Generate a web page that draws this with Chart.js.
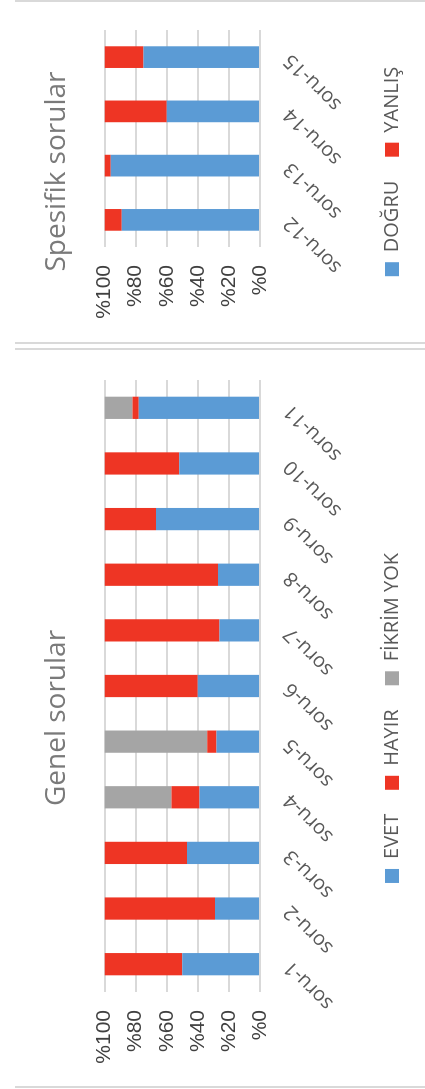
<!DOCTYPE html>
<html>
<head>
<meta charset="utf-8">
<script src="https://cdn.jsdelivr.net/npm/chart.js@4/dist/chart.umd.min.js"></script>
<style>
  html, body { margin: 0; padding: 0; background: #fff; }
  body { position: relative; width: 425px; height: 1089px; overflow: hidden; }
  .rule { position: absolute; left: 15px; right: 0; height: 2px; background: #d9d9d9; }
  .panel { position: absolute; left: 15px; height: 410px; transform: rotate(-90deg); transform-origin: 0 0; }
  .panel canvas { position: absolute; left: 0; top: 0; }
</style>
</head>
<body>
<div class="rule" style="top:0px"></div>
<div class="rule" style="top:342px"></div>
<div class="rule" style="top:348px"></div>
<div class="rule" style="top:1086px"></div>

<div class="panel" style="top:343px; width:343px;">
  <canvas id="spesifik" width="343" height="410"></canvas>
</div>
<div class="panel" style="top:1088px; width:740px;">
  <canvas id="genel" width="740" height="410"></canvas>
</div>

<script>
// Genel sorular (percent of answers per question)
const genelLabels = ['soru-1', 'soru-2', 'soru-3', 'soru-4', 'soru-5', 'soru-6', 'soru-7', 'soru-8', 'soru-9', 'soru-10', 'soru-11'];
const evet      = [50, 29, 47, 39, 28, 40, 26, 27, 67, 52, 78];
const hayir     = [50, 71, 53, 18,  6, 60, 74, 73, 33, 48,  4];
const fikrimYok = [ 0,  0,  0, 43, 66,  0,  0,  0,  0,  0, 18];

// Spesifik sorular
const spesifikLabels = ['soru-12', 'soru-13', 'soru-14', 'soru-15'];
const dogru  = [89, 96, 60, 75];
const yanlis = [11,  4, 40, 25];

// Value axis ticks
const percentTicks = [0, 20, 40, 60, 80, 100];

const BLUE = '#5b9bd5', RED = '#ee3524', GREY = '#a5a5a5';

Chart.defaults.font.family = "'Open Sans', 'Noto Sans', sans-serif";
Chart.defaults.animation = false;

function makeChart(id, titleText, labels, series, rightGap) {
  return new Chart(document.getElementById(id), {
    type: 'bar',
    data: {
      labels: labels,
      datasets: series.map(s => ({
        label: s.label,
        data: s.data,
        backgroundColor: s.color,
        borderWidth: 0,
        categoryPercentage: 1,
        barPercentage: 0.4,
        yAxisID: 'y'
      }))
    },
    options: {
      responsive: false,
      devicePixelRatio: 1,
      animation: false,
      layout: { padding: { top: 0, left: 0, right: 0, bottom: 13 } },
      plugins: {
        title: {
          display: true,
          text: titleText,
          color: '#7a7a7a',
          font: { size: 28, weight: 'normal' },
          padding: { top: 25, bottom: 31 }
        },
        legend: {
          position: 'bottom',
          labels: {
            boxWidth: 14,
            boxHeight: 14,
            padding: 24,
            color: '#595959',
            font: { size: 20 }
          }
        },
        tooltip: { enabled: false }
      },
      scales: {
        x: {
          stacked: true,
          grid: { display: false, drawTicks: false },
          border: { display: false },
          ticks: {
            color: '#595959',
            font: { size: 20 },
            minRotation: 45,
            maxRotation: 45,
            padding: 19,
            autoSkip: false
          },
          afterFit: s => { s.height = 98; }
        },
        y: {
          stacked: true,
          min: 0,
          max: 100,
          grid: { color: '#d9d9d9', lineWidth: 2, drawTicks: false },
          border: { display: false },
          afterBuildTicks: s => { s.ticks = percentTicks.map(v => ({ value: v })); },
          ticks: {
            color: '#404040',
            font: { family: "'Liberation Sans', Arial, sans-serif", size: 21 },
            padding: 18,
            autoSkip: false,
            callback: v => '%' + v
          },
          afterFit: s => { s.width = 96; }
        },
        // empty margin on the right side of the plot area
        gap: {
          type: 'linear',
          position: 'right',
          grid: { display: false, drawTicks: false },
          border: { display: false },
          ticks: { display: false },
          afterFit: s => { s.width = rightGap; }
        }
      }
    }
  });
}

makeChart('spesifik', 'Spesifik sorular', spesifikLabels, [
  { label: 'DOĞRU',  data: dogru,  color: BLUE },
  { label: 'YANLIŞ', data: yanlis, color: RED }
], 30);

makeChart('genel', 'Genel sorular', genelLabels, [
  { label: 'EVET',       data: evet,      color: BLUE },
  { label: 'HAYIR',      data: hayir,     color: RED },
  { label: 'FİKRİM YOK', data: fikrimYok, color: GREY }
], 32);
</script>
</body>
</html>
